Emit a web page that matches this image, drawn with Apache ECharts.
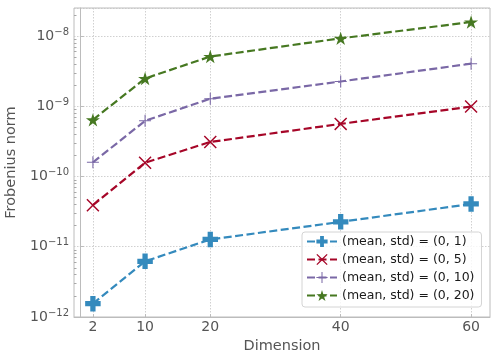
<!DOCTYPE html>
<html lang="en">
<head>
    <meta charset="UTF-8">
    <title>Frobenius norm vs dimension</title>
    <script src="https://cdn.jsdelivr.net/npm/echarts@6/dist/echarts.min.js"></script>
    <style>
        html, body { margin: 0; padding: 0; background: #fff; }
        #main { width: 498px; height: 364px; }
    </style>
</head>
<body>
<div id="main"></div>
<script type="text/javascript">
    var dims = [2, 10, 20, 40, 60];
    var names = ['(mean, std) = (0, 1)', '(mean, std) = (0, 5)', '(mean, std) = (0, 10)', '(mean, std) = (0, 20)'];
    var std1 = [1.55e-12, 6.2e-12, 1.27e-11, 2.26e-11, 4.06e-11];
    var std5 = [3.9e-11, 1.57e-10, 3.1e-10, 5.6e-10, 9.9e-10];
    var std10 = [1.59e-10, 6.2e-10, 1.28e-9, 2.25e-9, 4.03e-9];
    var std20 = [6.4e-10, 2.48e-9, 5.1e-9, 9.25e-9, 1.58e-8];
    var colors = ['#348ABD', '#A60628', '#7A68A6', '#467821'];

    // marker shapes (matplotlib P, x, +, *)
    var plusFilled = 'path://M-3.4,-10H3.4V-3.4H10V3.4H3.4V10H-3.4V3.4H-10V-3.4H-3.4Z';
    var thinX = 'path://M0,-1.6L8.4,-10L10,-8.4L1.6,0L10,8.4L8.4,10L0,1.6L-8.4,10L-10,8.4L-1.6,0L-10,-8.4L-8.4,-10Z';
    var thinPlus = 'path://M-0.9,-10H0.9V-0.9H10V0.9H0.9V10H-0.9V0.9H-10V-0.9H-0.9Z';
    var star = 'path://M0,-10L2.245,-3.09L9.511,-3.09L3.633,1.18L5.878,8.09L0,3.82L-5.878,8.09L-3.633,1.18L-9.511,-3.09L-2.245,-3.09Z';

    // minor tick positions of the log axis (2..9 per decade), in log10 units
    var minorTicks = [];
    for (var p = -12; p <= -8; p++) {
        for (var k = 2; k <= 9; k++) {
            var lv = p + Math.log10(k);
            if (lv < -7.6) minorTicks.push(lv);
        }
    }

    function pairs(vals) {
        return dims.map(function (d, i) { return [d, vals[i]]; });
    }

    function mkSeries(i, vals, symbol, size) {
        return {
            name: names[i],
            type: 'line',
            data: pairs(vals),
            symbol: symbol,
            symbolSize: size,
            showAllSymbol: true,
            lineStyle: { color: colors[i], width: 2.2, type: [8, 3.5] },
            itemStyle: { color: colors[i] },
            z: 2 + i
        };
    }

    var myChart = echarts.init(document.getElementById('main'));
    var option = {
        animation: false,
        backgroundColor: '#ffffff',
        textStyle: { fontFamily: 'DejaVu Sans' },
        grid: {
            left: 74, right: 8, top: 8, bottom: 47,
            outerBoundsMode: 'none',
            containLabel: false,
            show: true, borderColor: '#bcbcbc', borderWidth: 1, backgroundColor: 'transparent'
        },
        legend: {
            orient: 'vertical',
            left: 302,
            top: 232,
            data: names,
            itemWidth: 30,
            itemHeight: 14,
            itemGap: 5,
            padding: [3, 7, 5, 4],
            backgroundColor: 'rgba(255,255,255,0.8)',
            borderColor: '#d4d4d4',
            borderWidth: 1,
            borderRadius: 3,
            textStyle: { fontSize: 12.5, color: '#1a1a1a', fontFamily: 'DejaVu Sans' }
        },
        xAxis: {
            type: 'value',
            min: -0.9,
            max: 62.9,
            name: 'Dimension',
            nameLocation: 'middle',
            nameGap: 14,
            nameTextStyle: { fontSize: 14.5, color: '#555555' },
            axisLine: { show: true, lineStyle: { color: '#bcbcbc' } },
            axisTick: { show: true, inside: true, length: 3, customValues: dims, lineStyle: { color: '#bcbcbc' } },
            axisLabel: { customValues: dims, fontSize: 14, color: '#555555', margin: 3 },
            splitLine: { show: true, lineStyle: { color: '#c4c4c4', width: 0.8, type: [1.5, 1.5] } }
        },
        yAxis: [{
            type: 'log',
            logBase: 10,
            min: 1e-12,
            max: 2.5e-8,
            name: 'Frobenius norm',
            nameLocation: 'middle',
            nameGap: 54,
            nameTextStyle: { fontSize: 14.5, color: '#555555' },
            axisLine: { show: true, lineStyle: { color: '#bcbcbc' } },
            axisTick: { show: true, inside: true, length: 4, lineStyle: { color: '#bcbcbc' } },
            axisLabel: {
                showMaxLabel: false,
                margin: 5,
                color: '#555555',
                formatter: function (v) {
                    var e = Math.round(Math.log10(v));
                    return '{base|10}{sup|' + String(e).replace('-', '\u2212') + '}';
                },
                rich: {
                    base: { fontSize: 14, lineHeight: 16, color: '#555555' },
                    sup: { fontSize: 10, lineHeight: 10, padding: [0, 0, 8, 0], color: '#555555' }
                }
            },
            splitLine: { show: true, lineStyle: { color: '#c4c4c4', width: 0.8, type: [1.5, 1.5] } }
        }, {
            type: 'value',
            min: -12,
            max: -7.6,
            position: 'left',
            offset: 0,
            axisLine: { show: false },
            axisTick: { show: true, inside: true, length: 2.5, customValues: minorTicks, lineStyle: { color: '#a8a8a8' } },
            axisLabel: { show: false },
            splitLine: { show: false }
        }],
        series: [
            mkSeries(0, std1, plusFilled, 15.5),
            mkSeries(1, std5, thinX, 13),
            mkSeries(2, std10, thinPlus, 12),
            mkSeries(3, std20, star, [14, 13.3])
        ]
    };
    myChart.setOption(option);
</script>
</body>
</html>
